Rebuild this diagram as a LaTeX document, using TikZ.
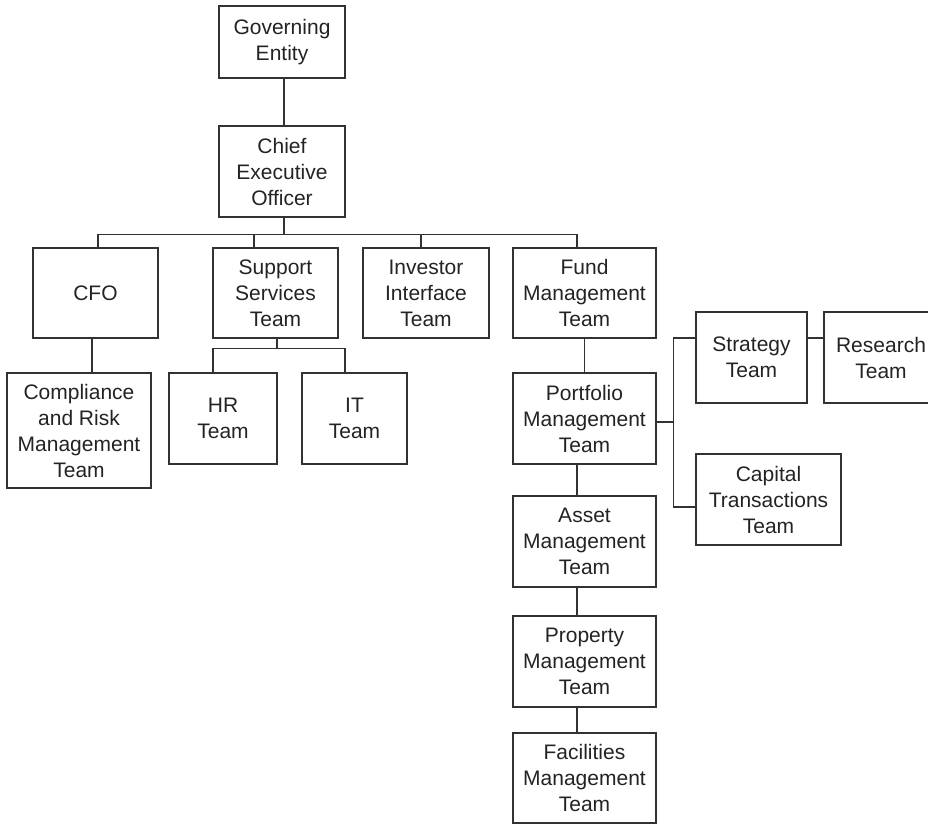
\documentclass[tikz,border=0pt]{standalone}
\usepackage{fontspec}
\setmainfont{Liberation Sans}
\usetikzlibrary{positioning}
\definecolor{Clinha}{RGB}{50,50,50}
\definecolor{Ctexto}{RGB}{35,35,35}
\tikzset{
  unidade/.style={draw=Clinha, line width=1.3pt, rectangle, align=center,
    inner sep=0pt, text=Ctexto, font=\fontsize{21}{26}\selectfont},
  ligacao/.style={draw=Clinha, line width=1.3pt}
}

\begin{document}
\begin{tikzpicture}[x=1pt, y=-1pt]
      % Moldura (928 x 824)
      \useasboundingbox (0,0) rectangle (928,824);
      \clip (0,0) rectangle (928,824);
      % Topo
      \node[unidade, minimum width=126, minimum height=72] (gov) at (282,42) {Governing\\Entity};
      \node[unidade, minimum width=126, minimum height=91] (ceo) at (282,171.5) {Chief\\Executive\\Officer};
      % Primeiro nivel
      \node[unidade, minimum width=125, minimum height=90] (cfo) at (95.5,293) {CFO};
      \node[unidade, minimum width=125, minimum height=90] (sup) at (275.5,293) {Support\\Services\\Team};
      \node[unidade, minimum width=126, minimum height=90] (inv) at (426,293) {Investor\\Interface\\Team};
      \node[unidade, minimum width=143, minimum height=90] (fund) at (584.5,293) {Fund\\Management\\Team};
      % Segundo nivel
      \node[unidade, minimum width=144, minimum height=115] (comp) at (79,430.5) {Compliance\\and Risk\\Management\\Team};
      \node[unidade, minimum width=108, minimum height=91] (hr) at (223,418.5) {HR\\Team};
      \node[unidade, minimum width=105, minimum height=91] (it) at (354.5,418.5) {IT\\Team};
      \node[unidade, minimum width=143, minimum height=91] (port) at (584.5,418.5) {Portfolio\\Management\\Team};
      % Ramo da carteira
      \node[unidade, minimum width=111, minimum height=91] (strat) at (751.5,357.5) {Strategy\\Team};
      \node[unidade, minimum width=114, minimum height=91] (res) at (881,357.5) {Research\\Team};
      \node[unidade, minimum width=145, minimum height=91] (cap) at (768.5,499.5) {Capital\\Transactions\\Team};
      % Cadeia de gestao
      \node[unidade, minimum width=143, minimum height=91] (asset) at (584.5,541.5) {Asset\\Management\\Team};
      \node[unidade, minimum width=143, minimum height=91] (prop) at (584.5,661.5) {Property\\Management\\Team};
      \node[unidade, minimum width=143, minimum height=90] (fac) at (584.5,778) {Facilities\\Management\\Team};
      % Ligacoes
      \draw[ligacao] ([xshift=2pt]gov.south) -- ([xshift=2pt]ceo.north);
      \draw[ligacao] ([xshift=2pt]ceo.south) -- ++(0,17) coordinate (bus);
      \foreach \n/\dx in {cfo/2.5, sup/-21.5, inv/-5, fund/-7.5}
        \draw[ligacao] ([xshift=\dx pt]\n.north) |- (bus);
      \draw[ligacao] ([xshift=-3.5pt]cfo.south) -- ([xshift=-3.5pt]cfo.south |- comp.north);
      \draw[ligacao] ([xshift=1.5pt]sup.south) -- ++(0,10) coordinate (sbus);
      \draw[ligacao] ([xshift=-10pt]hr.north) |- (sbus);
      \draw[ligacao] ([xshift=-9.5pt]it.north) |- (sbus);
      \draw[ligacao] (fund) -- (port);
      \draw[ligacao] ([yshift=-3.5pt]port.east) -- ++(17,0) coordinate (pj);
      \draw[ligacao] ([yshift=19.5pt]strat.west) -| (pj) |- ([yshift=-7.5pt]cap.west);
      \draw[ligacao] ([yshift=19.5pt]strat.east) -- ([yshift=19.5pt]res.west);
      \draw[ligacao] ([xshift=-7.5pt]port.south) -- ([xshift=-7.5pt]asset.north);
      \draw[ligacao] ([xshift=-7.5pt]asset.south) -- ([xshift=-7.5pt]prop.north);
      \draw[ligacao] ([xshift=-7.5pt]prop.south) -- ([xshift=-7.5pt]fac.north);
    \end{tikzpicture}
\end{document}
